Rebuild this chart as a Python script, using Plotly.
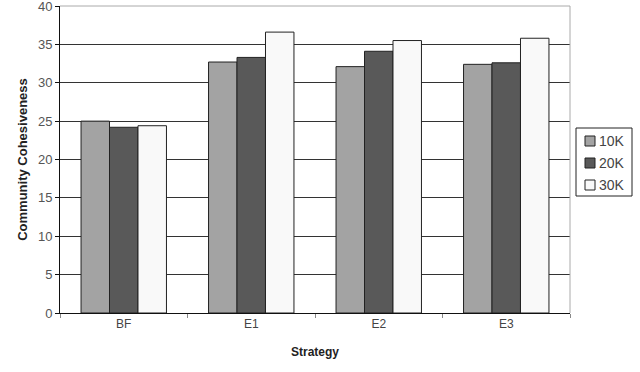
import plotly.graph_objects as go

strategies = ["BF", "E1", "E2", "E3"]
series_names = ["10K", "20K", "30K"]
values_10k = [25.0, 32.7, 32.1, 32.4]
values_20k = [24.2, 33.3, 34.1, 32.6]
values_30k = [24.4, 36.6, 35.5, 35.8]
y_ticks = [0, 5, 10, 15, 20, 25, 30, 35, 40]

fills = ["#a3a3a3", "#595959", "#f9f9f9"]
series_values = [values_10k, values_20k, values_30k]

W, H = 640, 372
M_L, M_R, M_T, M_B = 60, 70, 6, 59
plot_w = W - M_L - M_R
plot_h = H - M_T - M_B


def px_x(px):
    return (px - M_L) / plot_w


def px_y(py):
    return (H - M_B - py) / plot_h


fig = go.Figure()
for name, vals, col in zip(series_names, series_values, fills):
    fig.add_trace(go.Bar(
        x=strategies, y=vals, name=name,
        marker=dict(color=col, line=dict(color="#222222", width=1)),
    ))

font_family = "Liberation Sans, Arial, sans-serif"

fig.update_layout(
    width=W, height=H,
    margin=dict(l=M_L, r=M_R, t=M_T, b=M_B, autoexpand=False),
    paper_bgcolor="white", plot_bgcolor="white",
    barmode="group", bargap=0.33, bargroupgap=0,
    font=dict(family=font_family, size=12, color="#333333"),
    showlegend=False,
    xaxis=dict(
        showline=True, linecolor="#111111", linewidth=1,
        ticks="outside", ticklen=4, tickcolor="#888888",
        tickson="boundaries", showgrid=False,
        tickfont=dict(size=12, color="#444444"),
        title=dict(text="<b>Strategy</b>", font=dict(size=12, color="#222222"), standoff=17),
    ),
    yaxis=dict(
        range=[0, 40.0001], tickvals=y_ticks, showline=True,
        linecolor="#111111", linewidth=1,
        ticks="outside", ticklen=4, tickcolor="#111111",
        showgrid=True, gridcolor="#333333", gridwidth=1,
        zeroline=False, ticklabeloverflow="allow",
        tickfont=dict(size=13, color="#555555"),
        title=dict(text="<b>Community Cohesiveness</b>",
                   font=dict(size=13, color="#222222"), standoff=7),
    ),
)

# light frame along the top and right of the plotting area
fig.add_shape(type="line", xref="paper", yref="paper", x0=0, x1=1, y0=1, y1=1,
              line=dict(color="#aaaaaa", width=1))
fig.add_shape(type="line", xref="paper", yref="paper", x0=1, x1=1, y0=0, y1=1,
              line=dict(color="#aaaaaa", width=1))

# boxed legend to the right of the plot
fig.add_shape(type="rect", xref="paper", yref="paper",
              x0=px_x(576), x1=px_x(632), y0=px_y(196), y1=px_y(128),
              line=dict(color="#222222", width=1), fillcolor="white")
for i, (name, col) in enumerate(zip(series_names, fills)):
    cy = 141 + i * 22
    fig.add_shape(type="rect", xref="paper", yref="paper",
                  x0=px_x(585), x1=px_x(595), y0=px_y(cy + 5), y1=px_y(cy - 5),
                  line=dict(color="#222222", width=1), fillcolor=col)
    fig.add_annotation(xref="paper", yref="paper", x=px_x(597), y=px_y(cy),
                       xanchor="left", yanchor="middle", text=name, showarrow=False,
                       font=dict(size=14, color="#444444"))

fig.write_html("out.html")
